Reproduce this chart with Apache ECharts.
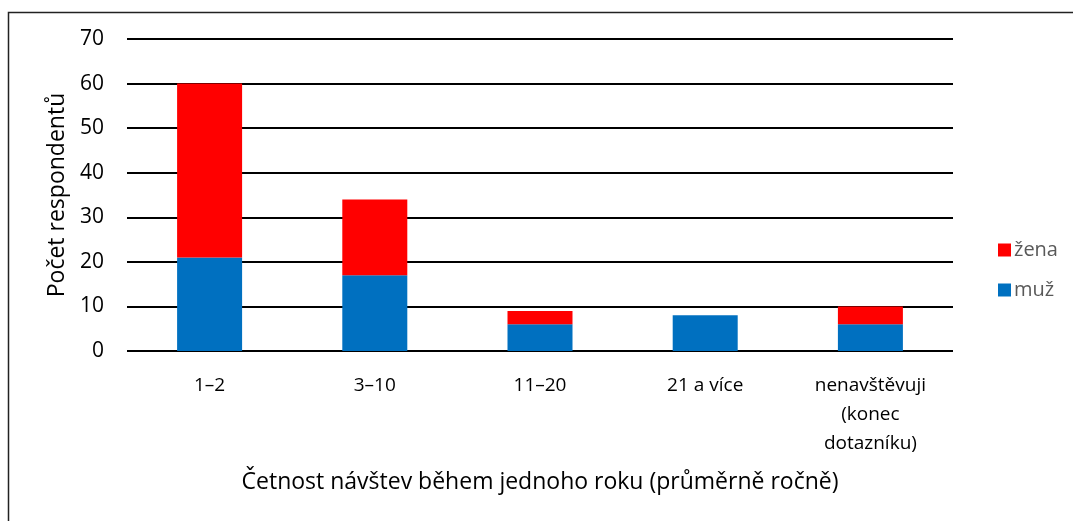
<!DOCTYPE html>
<html><head><meta charset="utf-8">
<script src="https://cdn.jsdelivr.net/npm/echarts@6/dist/echarts.min.js"></script>
<style>html,body{margin:0;padding:0;background:#fff}#c{width:1073px;height:521px}</style>
</head><body><div id="c"></div>
<script>
const categories = ['1–2', '3–10', '11–20', '21 a více', 'nenavštěvuji\n(konec\ndotazníku)'];
const muz = [21, 17, 6, 8, 6];
const zena = [39, 17, 3, 0, 4];
const yTicks = [0, 10, 20, 30, 40, 50, 60, 70];

const FONT = '"Open Sans", sans-serif';
const chart = echarts.init(document.getElementById('c'));
chart.setOption({
  animation: false,
  textStyle: { fontFamily: FONT },
  graphic: [{
    type: 'rect', left: 6, top: 10, silent: true,
    shape: { width: 1080, height: 530 },
    style: { fill: 'none', stroke: '#222', lineWidth: 1.5 }
  }],
  grid: { left: 127, right: 120, top: 39, bottom: 170 },
  legend: {
    orient: 'vertical', left: 993, top: 235, itemGap: 20,
    itemWidth: 13, itemHeight: 13, icon: 'rect',
    data: ['žena', 'muž'],
    textStyle: { fontSize: 20, color: '#595959', fontFamily: FONT, padding: [0, 0, 0, -2] }
  },
  xAxis: {
    type: 'category', data: categories,
    name: 'Četnost návštev během jednoho roku (průměrně ročně)',
    nameLocation: 'middle', nameGap: 120,
    nameTextStyle: { fontSize: 23, color: '#000', fontFamily: FONT },
    axisLine: { show: false }, axisTick: { show: false },
    axisLabel: { fontSize: 19, color: '#000', margin: 20, lineHeight: 29, fontFamily: FONT, interval: 0 }
  },
  yAxis: {
    type: 'value', min: 0, max: 70, interval: 10,
    name: 'Počet respondentů', nameLocation: 'middle', nameGap: 58, nameRotate: 90,
    nameTextStyle: { fontSize: 23, color: '#000', fontFamily: FONT },
    axisLine: { show: false }, axisTick: { show: false },
    axisLabel: { fontSize: 21, color: '#000', margin: 23, fontFamily: FONT,
      formatter: v => yTicks.includes(v) ? String(v) : '' },
    splitLine: { lineStyle: { color: '#000', width: 2 } }
  },
  series: [
    { name: 'muž', type: 'bar', stack: 's', data: muz, barWidth: 65,
      itemStyle: { color: '#0070C0' } },
    { name: 'žena', type: 'bar', stack: 's', data: zena, barWidth: 65,
      itemStyle: { color: '#FF0000' } }
  ]
});
</script></body></html>
